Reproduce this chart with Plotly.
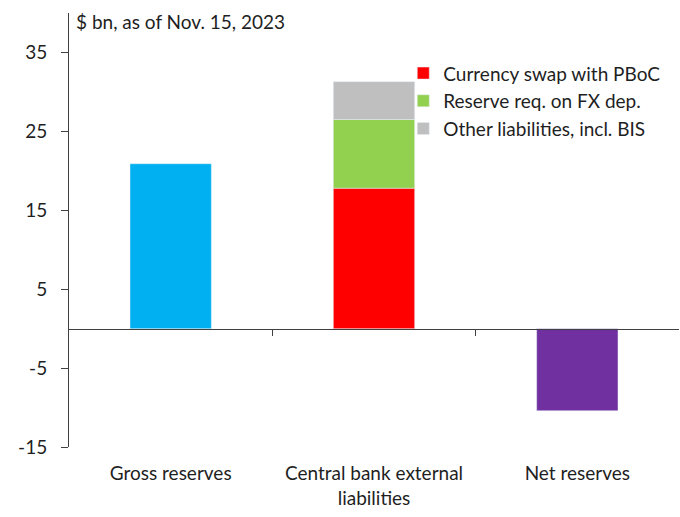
import plotly.graph_objects as go

categories = ["Gross reserves", "Central bank external<br>liabilities", "Net reserves"]
gross_reserves = [20.9, None, None]
currency_swap = [None, 17.8, None]
reserve_req = [None, 8.7, None]
other_liab = [None, 4.8, None]
net_reserves = [None, None, -10.4]

series_names = ["Currency swap with PBoC", "Reserve req. on FX dep.", "Other liabilities, incl. BIS"]
y_ticks = [-15, -5, 5, 15, 25, 35]
y_tick_text = ["-15", "-5", "5", "15", "25", "35"]
y_range = [-15, 40]

FONT = "Lato"
FS = 19
TXT = "#1f1f1f"
AX = "#404040"

fig = go.Figure()
fig.add_trace(go.Bar(x=categories, y=gross_reserves, marker_color="#00B0F0", showlegend=False))
fig.add_trace(go.Bar(x=categories, y=currency_swap, name=series_names[0], marker_color="#FF0000", legendgroup="a"))
fig.add_trace(go.Bar(x=categories, y=reserve_req, name=series_names[1], marker_color="#92D050", legendgroup="b"))
fig.add_trace(go.Bar(x=categories, y=other_liab, name=series_names[2], marker_color="#BFBFBF", legendgroup="c"))
fig.add_trace(go.Bar(x=categories, y=net_reserves, marker_color="#7030A0", showlegend=False))

zero_pos = (0 - y_range[0]) / (y_range[1] - y_range[0])

fig.update_layout(
    width=680, height=517,
    margin=dict(l=69, r=1, t=13, b=70),
    barmode="relative",
    bargap=0.6,
    plot_bgcolor="white",
    paper_bgcolor="white",
    font=dict(family=FONT, size=FS, color=TXT),
    showlegend=True,
    legend=dict(
        x=0.548, y=0.905, xanchor="left", yanchor="top",
        traceorder="normal",
        tracegroupgap=5,
        font=dict(family=FONT, size=FS, color=TXT),
        bgcolor="rgba(0,0,0,0)",
        itemclick=False,
    ),
    xaxis=dict(
        type="category",
        range=[-0.5, 2.5],
        showline=False, ticks="", showgrid=False, zeroline=False,
        ticklabelstandoff=13,
        tickfont=dict(family=FONT, size=FS, color=TXT),
        automargin=False,
    ),
    xaxis2=dict(
        overlaying="x", anchor="free", position=zero_pos,
        range=[-0.5, 2.5],
        tickvals=[0.5, 1.5], showticklabels=False,
        showline=True, linecolor=AX, linewidth=1,
        ticks="outside", ticklen=6, tickcolor=AX,
        showgrid=False, zeroline=False,
    ),
    yaxis=dict(
        range=y_range,
        tickvals=y_ticks, ticktext=y_tick_text,
        showline=True, linecolor=AX, linewidth=1,
        ticks="outside", ticklen=7, tickcolor=AX,
        showgrid=False, zeroline=False,
        ticklabelstandoff=10,
        tickfont=dict(family=FONT, size=FS, color=TXT),
        automargin=False,
    ),
    annotations=[dict(
        text="$ bn, as of Nov. 15, 2023",
        xref="paper", yref="paper", x=0.0, y=1.0,
        xanchor="left", yanchor="top", showarrow=False,
        xshift=5, yshift=5,
        font=dict(family=FONT, size=FS, color=TXT),
    )],
)
fig.add_trace(go.Scatter(x=[None], y=[None], xaxis="x2", showlegend=False, hoverinfo="skip"))

fig.write_html("out.html", config={"displayModeBar": False},
               post_script="document.body.style.margin='0';")
